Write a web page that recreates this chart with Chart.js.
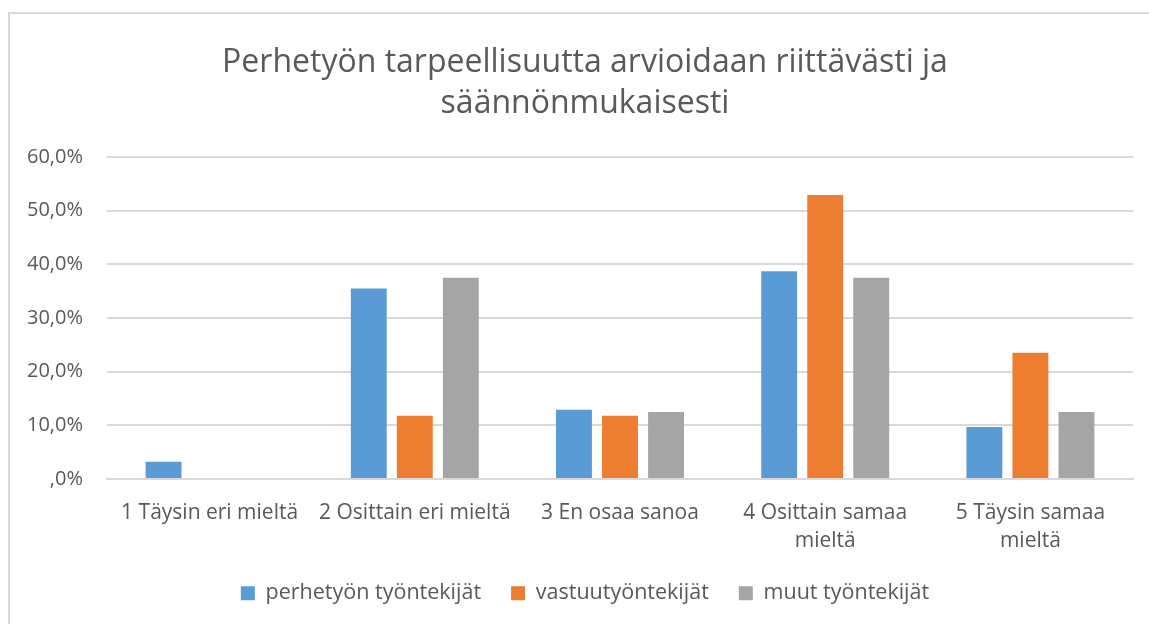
<!DOCTYPE html>
<html>
<head>
<meta charset="utf-8">
<script src="https://cdn.jsdelivr.net/npm/chart.js@4"></script>
<style>
html,body{margin:0;padding:0;background:#fff;overflow:hidden;width:1149px;height:624px;}
#frame{position:absolute;left:8px;top:12px;width:1156px;height:640px;border:2px solid #d9d9d9;box-sizing:border-box;}
#wrap{position:absolute;left:0;top:0;width:1170px;height:624px;}
</style>
</head>
<body>
<div id="frame"></div>
<div id="wrap"><canvas id="c" width="1170" height="624"></canvas></div>
<script>
const titleLines = ["Perhetyön tarpeellisuutta arvioidaan riittävästi ja", "säännönmukaisesti"];
const categories = [
  "1 Täysin eri mieltä",
  "2 Osittain eri mieltä",
  "3 En osaa sanoa",
  ["4 Osittain samaa", "mieltä"],
  ["5 Täysin samaa", "mieltä"]
];
const seriesNames = ["perhetyön työntekijät", "vastuutyöntekijät", "muut työntekijät"];
const perhetyo = [3.2, 35.5, 12.9, 38.7, 9.7];
const vastuu = [0, 11.8, 11.8, 52.9, 23.5];
const muut = [0, 37.5, 12.5, 37.5, 12.5];
const yTicks = [0, 10, 20, 30, 40, 50, 60];
const colors = ["#5b9bd5", "#ed7d31", "#a5a5a5"];

const font = "'Open Sans', 'Noto Sans', sans-serif";
const textColor = "#595959";

new Chart(document.getElementById('c'), {
  type: 'bar',
  data: {
    labels: categories,
    datasets: [perhetyo, vastuu, muut].map((d, i) => ({
      label: seriesNames[i],
      data: d,
      backgroundColor: colors[i],
      borderWidth: 0,
      categoryPercentage: 0.673,
      barPercentage: 0.78
    }))
  },
  options: {
    responsive: false,
    animation: false,
    layout: { padding: { left: 0, right: 0, top: 42, bottom: 10 } },
    plugins: {
      title: {
        display: true,
        text: titleLines,
        color: textColor,
        font: { family: font, size: 32, weight: 'normal', lineHeight: 1.28 },
        padding: { top: 0, bottom: 33 }
      },
      legend: {
        position: 'bottom',
        labels: {
          color: textColor,
          font: { family: font, size: 21.5 },
          boxWidth: 14, boxHeight: 14,
          padding: 30
        }
      },
      tooltip: { enabled: false }
    },
    scales: {
      x: {
        afterFit: (axis) => { axis.height = 73.5; },
        grid: { display: false, drawTicks: false },
        border: { display: true, color: '#d9d9d9', width: 2 },
        ticks: { color: textColor, font: { family: font, size: 21, lineHeight: 1.333 }, maxRotation: 0, autoSkip: false, padding: 20 }
      },
      y: {
        min: 0, max: 60,
        afterFit: (axis) => { axis.width = 107; },
        afterBuildTicks: (axis) => { axis.ticks = yTicks.map(v => ({ value: v })); },
        grid: { color: '#d9d9d9', lineWidth: 2, drawTicks: false },
        border: { display: false },
        ticks: {
          color: textColor, font: { family: font, size: 20 }, padding: 24,
          callback: (v) => v === 0 ? ',0%' : v.toFixed(1).replace('.', ',') + '%'
        }
      },
      yRightSpace: {
        type: 'linear',
        position: 'right',
        afterFit: (axis) => { axis.width = 37; },
        grid: { display: false, drawTicks: false },
        border: { display: false },
        ticks: { display: false }
      }
    }
  }
});
</script>
</body>
</html>
